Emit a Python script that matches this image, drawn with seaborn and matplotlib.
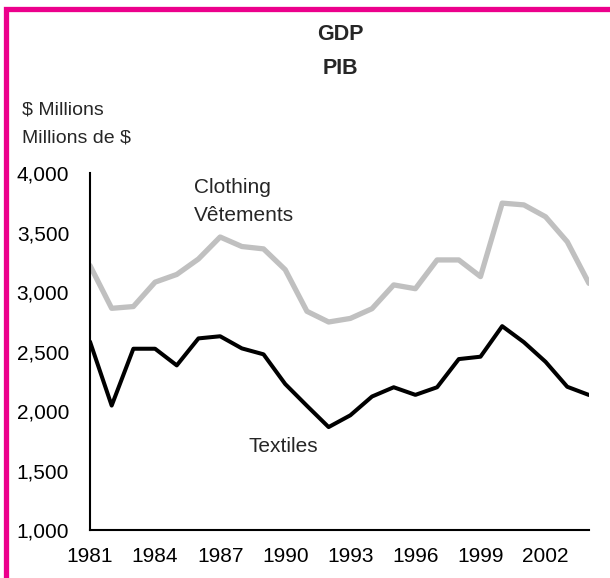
"""
GDP of the textile and clothing industries, 1981-2004
"""

import pandas as pd
import matplotlib.pyplot as plt
import seaborn as sns
from matplotlib.patches import Rectangle
from matplotlib.ticker import FuncFormatter, MultipleLocator

sns.set_style("white")
plt.rcParams['font.family'] = ['Liberation Sans', 'DejaVu Sans']

years = list(range(1981, 2005))
clothing = [3225, 2865, 2880, 3085, 3150, 3280, 3465, 3385, 3365, 3190,
            2840, 2750, 2780, 2862, 3062, 3030, 3272, 3272, 3132, 3750,
            3735, 3635, 3425, 3075]
textiles = [2585, 2047, 2525, 2525, 2385, 2612, 2630, 2528, 2478, 2228,
            2045, 1866, 1965, 2123, 2201, 2137, 2201, 2438, 2458, 2715,
            2580, 2415, 2205, 2136]
year_labels = list(range(1981, 2005, 3))

df = pd.DataFrame({'year': years, 'Clothing': clothing, 'Textiles': textiles})

fig = plt.figure(figsize=(6.10, 5.78), dpi=100)
ax = fig.add_axes([0.1475, 0.083, 0.818, 0.617])

sns.lineplot(data=df, x='year', y='Clothing', color='#C0C0C0', linewidth=3.8, ax=ax)
sns.lineplot(data=df, x='year', y='Textiles', color='black', linewidth=2.9, ax=ax)

ax.set_xlim(1981, 2004)
ax.set_ylim(1000, 4000)
ax.set_xticks(years)
ax.set_xticklabels([str(y) if y in year_labels else '' for y in years])
ax.yaxis.set_major_locator(MultipleLocator(500))
ax.yaxis.set_major_formatter(FuncFormatter(lambda v, p: f"{int(v):,}"))
ax.tick_params(axis='both', direction='in', length=5, width=1.2, colors='black',
               labelsize=15)
ax.tick_params(axis='x', pad=12)
ax.tick_params(axis='y', pad=15)
ax.set_xlabel('')
ax.set_ylabel('')
for side in ['top', 'right']:
    ax.spines[side].set_visible(False)
for side in ['left', 'bottom']:
    ax.spines[side].set_color('black')
    ax.spines[side].set_linewidth(1.5)

# series labels
ax.text(1985.8, 3880, 'Clothing', fontsize=15, va='center', ha='left')
ax.text(1985.8, 3650, 'Vêtements', fontsize=15, va='center', ha='left')
ax.text(1988.3, 1700, 'Textiles', fontsize=15, va='center', ha='left')

# titles and unit labels
fig.text(340 / 610, 1 - 35 / 578, 'GDP', fontsize=15.5, fontweight='bold', ha='center', va='center')
fig.text(340 / 610, 1 - 68 / 578, 'PIB', fontsize=15.5, fontweight='bold', ha='center', va='center')
fig.text(22 / 610, 1 - 110 / 578, '$ Millions', fontsize=14, ha='left', va='center')
fig.text(22 / 610, 1 - 138 / 578, 'Millions de $', fontsize=14, ha='left', va='center')

# magenta frame (only top and left edges visible)
fig.add_artist(Rectangle((5.5 / 610, -0.2), 1.2, 1.2 - 8.5 / 578,
                         transform=fig.transFigure, fill=False,
                         edgecolor='#EC008C', linewidth=3.8))

plt.savefig('out.png', dpi=100, facecolor='white')
